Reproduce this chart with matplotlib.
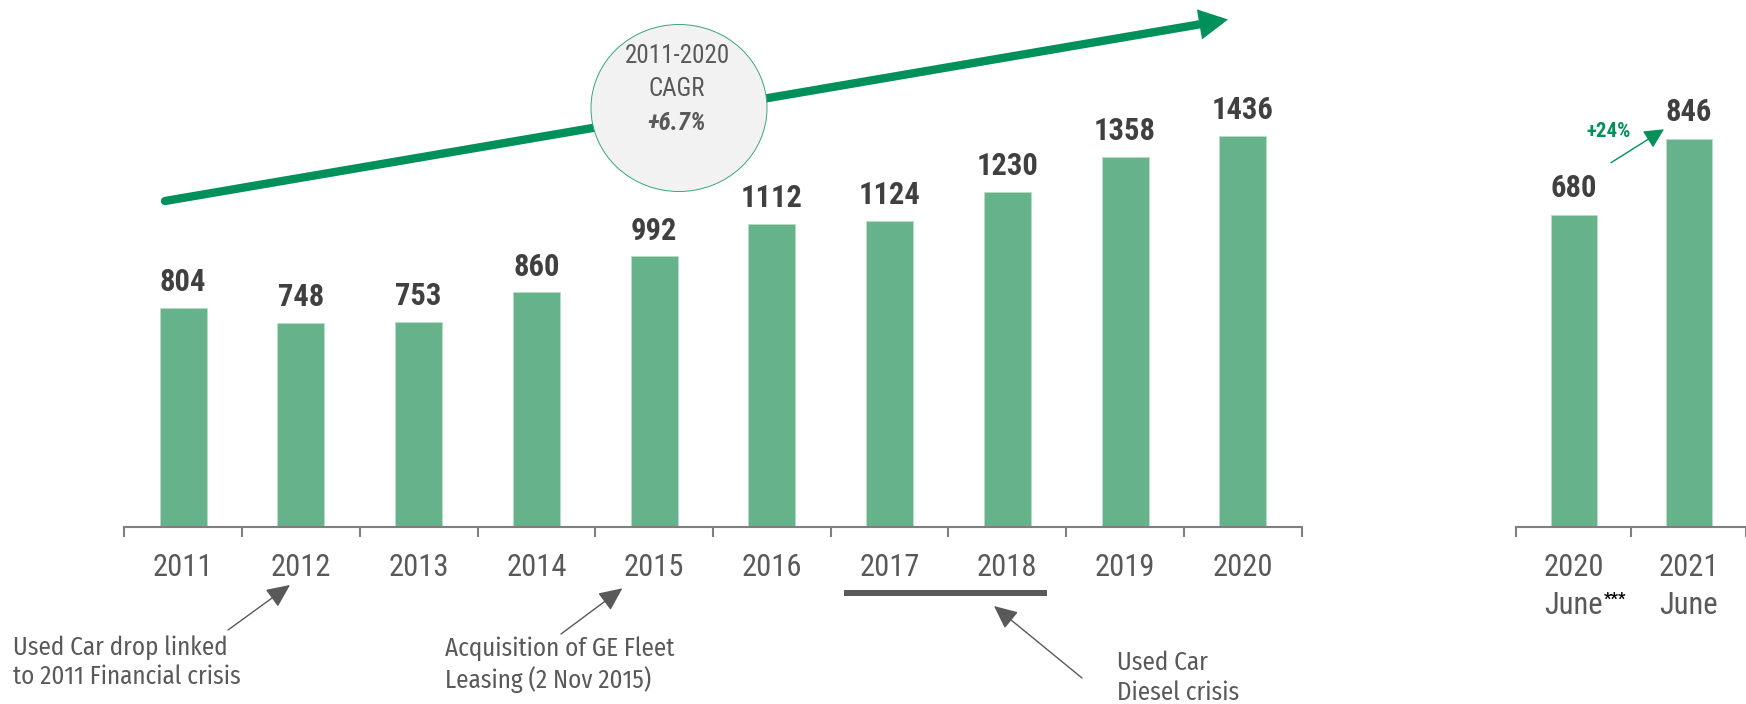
import matplotlib
matplotlib.use("Agg")
import matplotlib.pyplot as plt
import matplotlib.transforms as mtransforms
from matplotlib.patches import Ellipse
import numpy as np

# ---- data -------------------------------------------------------------------
years = ["2011", "2012", "2013", "2014", "2015", "2016", "2017", "2018", "2019", "2020"]
values = [804, 748, 753, 860, 992, 1112, 1124, 1230, 1358, 1436]

h1_years = ["2020", "2021"]
h1_period = ["June", "June"]
h1_marks = ["***", ""]
h1_values = [680, 846]
h1_growth = "+24%"

cagr_lines = ["2011-2020", "CAGR", "+6.7%"]

notes = [
    "Used Car drop linked\nto 2011 Financial crisis",
    "Acquisition of GE Fleet\nLeasing (2 Nov 2015)",
    "Used Car\nDiesel crisis",
]

# ---- style ------------------------------------------------------------------
BAR = "#66b28b"
DARK = "#404040"
GREY = "#595959"
AXIS = "#7f7f7f"
GREEN = "#00915a"
NARROW = ["Roboto Condensed", "Archivo Narrow", "DejaVu Sans"]
NOTE = ["Fira Sans Condensed", "Asap Condensed", "DejaVu Sans"]
plt.rcParams["font.family"] = NARROW

W, H = 1746, 704
BASE = 526.7                      # baseline in pixels from top
fig = plt.figure(figsize=(W / 100, H / 100), dpi=100)


def fx(px):
    return px / W


def fy(py):
    return 1 - py / H


ax = fig.add_axes([fx(124.3), fy(BASE), fx(1301.7) - fx(124.3), BASE / H])
ax2 = fig.add_axes([fx(1516), fy(BASE), fx(1746) - fx(1516), BASE / H])


def style(a, n):
    for s in ("top", "right", "left"):
        a.spines[s].set_visible(False)
    a.spines["bottom"].set_color(AXIS)
    a.spines["bottom"].set_linewidth(1.5)
    a.set_yticks([])
    a.patch.set_alpha(0)
    a.set_xticks(np.arange(-0.5, n + 0.5), minor=True)
    a.tick_params(axis="x", which="major", length=0, pad=19,
                  labelsize=22, labelcolor=GREY)
    a.tick_params(axis="x", which="minor", length=7.2, width=1.5, color=AXIS)


# ---- yearly bars --------------------------------------------------------------
x = np.arange(len(years))
ax.bar(x, values, width=0.4, color=BAR, edgecolor="#b9dcc8", linewidth=0.6)
ax.set_xlim(-0.5, len(years) - 0.5)
ax.set_ylim(0, BASE / 0.2724)
style(ax, len(years))
ax.set_xticks(x, years)
for xi, v in zip(x, values):
    ax.annotate(str(v), (xi, v), xytext=(0, 12), textcoords="offset points",
                ha="center", va="baseline", fontsize=22, fontweight="bold",
                color=DARK)

# ---- half-year bars -------------------------------------------------------------
x2 = np.arange(len(h1_years))
ax2.bar(x2, h1_values, width=0.4, color=BAR, edgecolor="#b9dcc8", linewidth=0.6)
ax2.set_xlim(-0.5, -0.5 + (W - 1516) / 120.5)
ax2.set_ylim(0, BASE / 0.458)
style(ax2, len(h1_years))
ax2.set_xticks(x2, [f"{y}\n{p}" for y, p in zip(h1_years, h1_period)])
for lbl in ax2.get_xticklabels():
    lbl.set_linespacing(1.37)
for xi, v in zip(x2, h1_values):
    ax2.annotate(str(v), (xi, v), xytext=(0, 13), textcoords="offset points",
                 ha="center", va="baseline", fontsize=22, fontweight="bold",
                 color=DARK)
btrans = mtransforms.blended_transform_factory(ax2.transData, ax2.transAxes)
for xi, m in zip(x2, h1_marks):
    if m:
        ax2.annotate(m, (xi, 0), xycoords=btrans, xytext=(22, -47),
                     textcoords="offset points", ha="left", va="top",
                     fontsize=12, fontweight="bold", color="black")

# ---- overlay in pixel coordinates -------------------------------------------
ov = fig.add_axes([0, 0, 1, 1])
ov.set_xlim(0, W)
ov.set_ylim(H, 0)
ov.axis("off")
ov.patch.set_alpha(0)

# CAGR trend arrow + bubble
ov.annotate("", xy=(1228, 19.5), xytext=(165, 201),
            arrowprops=dict(arrowstyle="-|>,head_length=0.95,head_width=0.5",
                            mutation_scale=12, lw=6, color=GREEN,
                            shrinkA=0, shrinkB=0, joinstyle="miter"))
ov.add_patch(Ellipse((679, 108), 176, 167, facecolor="#f2f2f2",
                     edgecolor="#3aa57a", lw=0.7, zorder=3))
for ty, t, bold in zip([56, 89, 122.5], cagr_lines, [False, False, True]):
    ov.text(677, ty, t, ha="center", va="center", fontsize=18, color=GREY,
            fontweight="bold" if bold else "normal",
            fontstyle="italic" if bold else "normal", zorder=4)

# half-year growth
ov.annotate("", xy=(1664, 129.3), xytext=(1611, 162.7),
            arrowprops=dict(arrowstyle="-|>,head_length=1.0,head_width=0.5",
                            mutation_scale=12, lw=1, color=GREEN,
                            shrinkA=0, shrinkB=0))
ov.text(1609, 131.7, h1_growth, ha="center", va="center", fontsize=15,
        fontweight="bold", color=GREEN)

# event notes
arrow_kw = dict(arrowstyle="-|>,head_length=1.2,head_width=0.55",
                mutation_scale=12, lw=1, color=GREY, shrinkA=0, shrinkB=0)
note_kw = dict(ha="left", va="center", fontsize=18, color=GREY,
               family=NOTE, linespacing=1.25)
ov.text(13, 662, notes[0], **note_kw)
ov.annotate("", xy=(290, 585), xytext=(228, 630), arrowprops=arrow_kw)

ov.text(445, 665, notes[1], **note_kw)
ov.annotate("", xy=(622.4, 588.3), xytext=(561, 634), arrowprops=arrow_kw)

ov.plot([844, 1047], [593, 593], color=GREY, lw=4.3, solid_capstyle="butt")
ov.text(1117, 678, notes[2], **note_kw)
ov.annotate("", xy=(994, 606), xytext=(1082, 678), arrowprops=arrow_kw)

fig.savefig("out.png", dpi=100)
